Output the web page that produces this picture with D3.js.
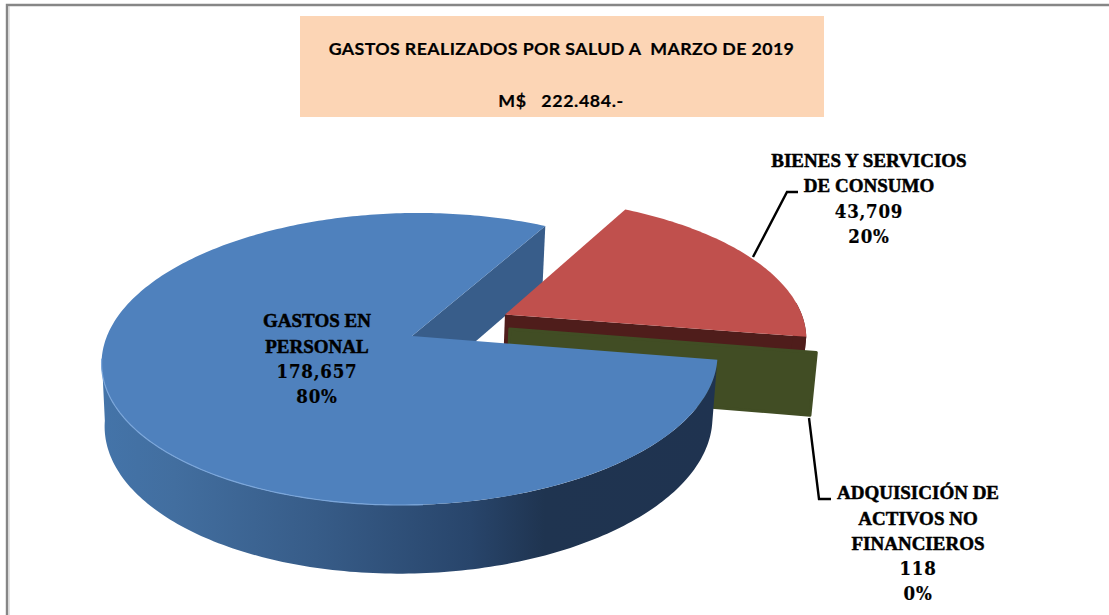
<!DOCTYPE html>
<html><head><meta charset="utf-8">
<script src="https://cdn.jsdelivr.net/npm/d3@7"></script>
<style>html,body{margin:0;padding:0;background:#fff;overflow:hidden}svg{display:block}</style>
</head><body><div id="c"></div>
<script>
// ---- data ----
const categories = ["GASTOS EN PERSONAL", "BIENES Y SERVICIOS DE CONSUMO", "ADQUISICIÓN DE ACTIVOS NO FINANCIEROS"];
const values = [178657, 43709, 118];
const percents = ["80%", "20%", "0%"];
const labelNames = [["GASTOS EN", "PERSONAL"], ["BIENES Y SERVICIOS", "DE CONSUMO"], ["ADQUISICIÓN DE", "ACTIVOS NO", "FINANCIEROS"]];
const titleLines = ["GASTOS REALIZADOS POR SALUD A\u00A0\u00A0MARZO DE 2019", "M$\u00A0\u00A0\u00A0222.484.-"];

// ---- layout / style ----
const W = 1109, H = 615;
const startDeg = 99.4;
const persp = 0.1575;
const topPlane = {cx: 411, cy: 336, rx: 304, ry: 142.4, shear: -9};
const botPlane = {cx: 410, cy: 398, rx: 300, ry: 148, shear: -9};
const explode = [{u: 0, v: 0}, {u: 0.312, v: -0.154}, {u: 0.326, v: -0.049}];
const topColors = ["#4f81bd", "#c0504d", "#4a5a2a"];
const sideColors = ["url(#blueSide)", "#4f1d1b", "#414d24"];
const cutColors = ["#385d8a", "#4f1d1b", "#414d24"];
const labelPos = [
  {x: 317, y: [327, 352.5, 378, 403]},
  {x: 869, y: [167, 192, 217.5, 243]},
  {x: 918, y: [499, 525, 550, 575, 600]}
];
const leaders = [null, [[753, 257], [787, 192], [798, 192]], [[809, 418], [819, 499], [831, 499]]];

const svg = d3.select("#c").append("svg").attr("width", W).attr("height", H);
const defs = svg.append("defs");
const grad = defs.append("linearGradient").attr("id", "blueSide").attr("gradientUnits", "userSpaceOnUse")
  .attr("x1", 101).attr("x2", 717).attr("y1", 0).attr("y2", 0);
[[0, "#4474a9"], [0.12, "#426e9f"], [0.35, "#375c88"], [0.6, "#28456b"], [0.72, "#1f3450"], [1, "#1f3350"]]
  .forEach(s => grad.append("stop").attr("offset", s[0]).attr("stop-color", s[1]));

// ---- frame ----
svg.append("path").attr("d", `M7 615V5H${W}`).attr("fill", "none").attr("stroke", "#868686").attr("stroke-width", 2.4);
svg.append("line").attr("x1", 9).attr("x2", 9).attr("y1", 6).attr("y2", H).attr("stroke", "#c8c8c8").attr("stroke-width", 1);

// ---- title ----
svg.append("rect").attr("x", 300).attr("y", 16).attr("width", 524).attr("height", 101).attr("fill", "#fcd5b5");
svg.selectAll("text.title").data(titleLines).join("text").attr("class", "title")
  .attr("x", (d, i) => i ? 561 : 561.5).attr("y", (d, i) => i ? 106.5 : 54.5)
  .attr("text-anchor", "middle").attr("font-family", "Lato, 'Open Sans', sans-serif")
  .attr("font-weight", 700).attr("font-size", 17.8).attr("letter-spacing", (d, i) => i ? 0.6 : 0.38)
  .attr("stroke", "#000").attr("stroke-width", 0.2)
  .attr("fill", "#000").text(d => d);

// ---- pie geometry ----
const start = startDeg * Math.PI / 180;
const pie = d3.pie().sort(null).startAngle(start).endAngle(start + 2 * Math.PI);
const arcs = pie(values);

function proj(plane, a, r, e) {
  const u = Math.sin(a) * r + e.u, v = -Math.cos(a) * r + e.v;
  const den = 1 - persp * v;
  return [plane.cx + (plane.rx * u + plane.shear * v) / den, plane.cy + plane.ry * v / den];
}
const line = d3.line();
function samples(a0, a1) {
  const n = Math.max(2, Math.ceil(Math.abs(a1 - a0) * 60));
  return d3.range(n + 1).map(i => a0 + (a1 - a0) * i / n);
}
function topFace(d, i, apex) {
  const pts = samples(d.startAngle, d.endAngle).map(a => proj(topPlane, a, 1, explode[i]));
  return line([apex || proj(topPlane, 0, 0, explode[i]), ...pts]) + "Z";
}
function sideFace(a0, a1, i) {
  const s = samples(a0, a1);
  const t = s.map(a => proj(topPlane, a, 1, explode[i]));
  const b = s.map(a => proj(botPlane, a, 1, explode[i])).reverse();
  return line([...t, ...b]) + "Z";
}
function cutFace(a, i, apexTop) {
  return line([apexTop || proj(topPlane, 0, 0, explode[i]), proj(topPlane, a, 1, explode[i]),
               proj(botPlane, a, 1, explode[i]), proj(botPlane, 0, 0, explode[i])]) + "Z";
}
const blueApex = [412, 336];
const [blue, red, green] = arcs;
const g = svg.append("g");

// back to front
g.append("path").attr("d", cutFace(blue.endAngle, 0, blueApex)).attr("fill", cutColors[0]);
g.append("path").attr("d", cutFace(red.endAngle, 1)).attr("fill", cutColors[1]);
g.append("path").attr("d", sideFace(red.endAngle - 0.25, red.endAngle, 1)).attr("fill", sideColors[1]);
g.append("path").attr("d", topFace(red, 1)).attr("fill", topColors[1]);
g.append("path").attr("d", cutFace(green.endAngle, 2)).attr("fill", cutColors[2])
  .attr("stroke", cutColors[2]).attr("stroke-width", 3).attr("stroke-linejoin", "round");
g.append("path").attr("d", sideFace(blue.startAngle, blue.startAngle + 162 * Math.PI / 180, 0)).attr("fill", sideColors[0]);
g.append("path").attr("d", topFace(blue, 0, blueApex)).attr("fill", topColors[0]);
// rim highlight along the lower-left edge of the top face
g.append("path").attr("d", line(samples(Math.PI * 0.98, Math.PI * 1.45).map(a => proj(topPlane, a, 1, explode[0]))))
  .attr("fill", "none").attr("stroke", "#7ba6da").attr("stroke-width", 1.2);

// ---- leaders ----
leaders.forEach(l => { if (l) svg.append("path").attr("d", line(l)).attr("fill", "none")
  .attr("stroke", "#000").attr("stroke-width", 2.4).attr("stroke-linejoin", "miter"); });

// ---- labels ----
const fmt = d3.format(",");
categories.forEach((c, i) => {
  const n = labelNames[i].length;
  const lines = [...labelNames[i], fmt(values[i]), percents[i]];
  svg.append("g").selectAll("text").data(lines).join("text")
    .attr("x", labelPos[i].x).attr("y", (d, j) => labelPos[i].y[j])
    .attr("text-anchor", "middle")
    .attr("font-family", (d, j) => j < n ? "'Liberation Serif', serif" : "'DejaVu Serif Condensed', 'DejaVu Serif', serif")
    .attr("font-weight", 700).attr("font-size", (d, j) => j < n ? 19 : 18.5)
    .attr("letter-spacing", (d, j) => j < n ? 0 : 0.8)
    .attr("stroke", "#000").attr("stroke-width", (d, j) => j < n ? 0.5 : 0.2)
    .attr("fill", "#000").text(d => d);
});
</script></body></html>
